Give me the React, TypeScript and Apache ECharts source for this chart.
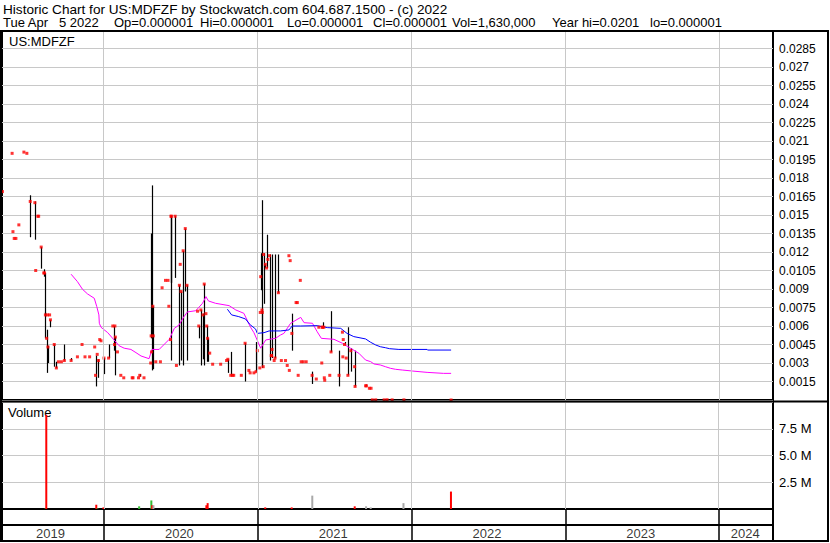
import React, { useEffect, useRef } from 'react';
import * as echarts from 'echarts';

// ---------- data ----------
const ticker = 'US:MDFZF';
const headerLine1 = 'Historic Chart for US:MDFZF by Stockwatch.com 604.687.1500 - (c) 2022';
const headerFields = [
  'Tue Apr   5 2022', 'Op=0.000001', 'Hi=0.000001', 'Lo=0.000001', 'Cl=0.000001',
  'Vol=1,630,000', 'Year hi=0.0201', 'lo=0.000001',
];

const axisStart = '2019-05-05';
const axisEnd = '2024-05-08';
const yearStarts = ['2020-01-01', '2021-01-01', '2022-01-01', '2023-01-01', '2024-01-01'];
const yearLabels = ['2019', '2020', '2021', '2022', '2023', '2024'];
const yearLabelDates = ['2019-08-28', '2020-06-29', '2021-06-29', '2022-06-29', '2023-06-29', '2024-03-03'];

// [date, high, low, close]
const priceRows: [string, number, number, number][] = [
  ['2019-05-06', 0.0169, 0.0169, 0.0169],
  ['2019-05-29', 0.02, 0.02, 0.02],
  ['2019-05-31', 0.01365, 0.01365, 0.01365],
  ['2019-06-03', 0.0131, 0.0131, 0.0131],
  ['2019-06-07', 0.0131, 0.0131, 0.0131],
  ['2019-06-14', 0.0142, 0.0142, 0.0142],
  ['2019-06-26', 0.0201, 0.0201, 0.0201],
  ['2019-07-03', 0.02, 0.02, 0.02],
  ['2019-07-11', 0.0166, 0.0132, 0.0161],
  ['2019-07-22', 0.0161, 0.013, 0.016],
  ['2019-07-24', 0.0105, 0.0105, 0.0105],
  ['2019-07-29', 0.0149, 0.0149, 0.0149],
  ['2019-07-31', 0.0149, 0.0149, 0.0149],
  ['2019-08-06', 0.0124, 0.01065, 0.0124],
  ['2019-08-12', 0.0106, 0.01, 0.0103],
  ['2019-08-14', 0.0103, 0.005, 0.0103],
  ['2019-08-16', 0.0071, 0.0069, 0.0069],
  ['2019-08-19', 0.0057, 0.0022, 0.005],
  ['2019-08-21', 0.0069, 0.0069, 0.0069],
  ['2019-08-22', 0.0044, 0.003, 0.0043],
  ['2019-08-26', 0.0069, 0.0069, 0.0069],
  ['2019-08-28', 0.0065, 0.0059, 0.0065],
  ['2019-09-06', 0.0045, 0.0027, 0.0045],
  ['2019-09-11', 0.0031, 0.0026, 0.0026],
  ['2019-09-16', 0.0031, 0.0031, 0.0031],
  ['2019-09-23', 0.0031, 0.0031, 0.0031],
  ['2019-09-30', 0.0045, 0.0032, 0.0032],
  ['2019-10-16', 0.0034, 0.0032, 0.0032],
  ['2019-10-31', 0.0035, 0.0035, 0.0035],
  ['2019-11-11', 0.0045, 0.0045, 0.0045],
  ['2019-11-18', 0.0035, 0.0035, 0.0035],
  ['2019-11-29', 0.0035, 0.0035, 0.0035],
  ['2019-12-11', 0.0043, 0.0043, 0.0043],
  ['2019-12-13', 0.0036, 0.0011, 0.002],
  ['2019-12-17', 0.0037, 0.0037, 0.0037],
  ['2019-12-20', 0.0033, 0.0018, 0.0032],
  ['2019-12-23', 0.0049, 0.0049, 0.0049],
  ['2019-12-26', 0.0048, 0.0048, 0.0048],
  ['2020-01-02', 0.0034, 0.0021, 0.0034],
  ['2020-01-13', 0.0045, 0.0034, 0.0034],
  ['2020-01-23', 0.006, 0.006, 0.006],
  ['2020-01-27', 0.006, 0.004, 0.0045],
  ['2020-01-28', 0.006, 0.006, 0.006],
  ['2020-01-29', 0.0051, 0.002, 0.0051],
  ['2020-02-03', 0.0039, 0.0039, 0.0039],
  ['2020-02-11', 0.002, 0.002, 0.002],
  ['2020-02-18', 0.0018, 0.0018, 0.0018],
  ['2020-03-09', 0.0018, 0.0018, 0.0018],
  ['2020-03-11', 0.0018, 0.0018, 0.0018],
  ['2020-03-24', 0.0018, 0.0018, 0.0018],
  ['2020-03-27', 0.0021, 0.0019, 0.002],
  ['2020-04-06', 0.0018, 0.0018, 0.0018],
  ['2020-04-22', 0.003, 0.003, 0.003],
  ['2020-04-23', 0.0135, 0.005, 0.0052],
  ['2020-04-24', 0.0174, 0.0024, 0.0039],
  ['2020-04-27', 0.0076, 0.0025, 0.0076],
  ['2020-04-28', 0.0052, 0.0052, 0.0052],
  ['2020-05-04', 0.0031, 0.0031, 0.0031],
  ['2020-05-15', 0.0031, 0.0031, 0.0031],
  ['2020-05-19', 0.0091, 0.0091, 0.0091],
  ['2020-05-27', 0.0097, 0.0097, 0.0097],
  ['2020-06-02', 0.0097, 0.0097, 0.0097],
  ['2020-06-04', 0.0076, 0.0076, 0.0076],
  ['2020-06-08', 0.0149, 0.0032, 0.0049],
  ['2020-06-09', 0.0149, 0.0095, 0.0149],
  ['2020-06-10', 0.0149, 0.0095, 0.0149],
  ['2020-06-19', 0.0149, 0.0099, 0.0149],
  ['2020-06-22', 0.0028, 0.0028, 0.0028],
  ['2020-06-29', 0.0093, 0.0028, 0.0093],
  ['2020-07-01', 0.011, 0.011, 0.011],
  ['2020-07-03', 0.0088, 0.0032, 0.0088],
  ['2020-07-08', 0.0121, 0.0028, 0.0121],
  ['2020-07-13', 0.0139, 0.0088, 0.0139],
  ['2020-07-17', 0.0093, 0.0032, 0.0093],
  ['2020-08-11', 0.0072, 0.0072, 0.0072],
  ['2020-08-14', 0.006, 0.005, 0.006],
  ['2020-08-19', 0.0073, 0.0028, 0.0073],
  ['2020-08-24', 0.007, 0.0033, 0.0069],
  ['2020-08-27', 0.0094, 0.0028, 0.0094],
  ['2020-08-31', 0.007, 0.007, 0.007],
  ['2020-09-02', 0.006, 0.0031, 0.006],
  ['2020-09-04', 0.005, 0.0031, 0.005],
  ['2020-09-09', 0.0038, 0.0038, 0.0038],
  ['2020-09-16', 0.0029, 0.0029, 0.0029],
  ['2020-10-05', 0.0029, 0.0029, 0.0029],
  ['2020-10-19', 0.0032, 0.0032, 0.0032],
  ['2020-10-22', 0.0033, 0.0022, 0.0033],
  ['2020-10-29', 0.0039, 0.002, 0.002],
  ['2020-11-02', 0.002, 0.002, 0.002],
  ['2020-11-05', 0.002, 0.002, 0.002],
  ['2020-11-23', 0.002, 0.002, 0.002],
  ['2020-12-02', 0.0046, 0.0015, 0.0046],
  ['2020-12-11', 0.0024, 0.0024, 0.0024],
  ['2020-12-14', 0.0022, 0.0022, 0.0022],
  ['2020-12-23', 0.0022, 0.0022, 0.0022],
  ['2020-12-28', 0.0047, 0.0023, 0.0023],
  ['2020-12-31', 0.004, 0.004, 0.004],
  ['2021-01-06', 0.0026, 0.0026, 0.0026],
  ['2021-01-07', 0.0071, 0.0071, 0.0071],
  ['2021-01-08', 0.0119, 0.0089, 0.01],
  ['2021-01-11', 0.0074, 0.0026, 0.0073],
  ['2021-01-12', 0.0162, 0.0027, 0.0071],
  ['2021-01-14', 0.0027, 0.0027, 0.0027],
  ['2021-01-15', 0.0119, 0.0078, 0.0118],
  ['2021-01-19', 0.011, 0.0107, 0.011],
  ['2021-01-22', 0.0134, 0.0107, 0.0107],
  ['2021-01-25', 0.0114, 0.0114, 0.0114],
  ['2021-01-29', 0.0118, 0.0032, 0.0117],
  ['2021-02-02', 0.0036, 0.0036, 0.0036],
  ['2021-02-03', 0.0118, 0.0034, 0.0036],
  ['2021-02-04', 0.0041, 0.0041, 0.0041],
  ['2021-02-09', 0.0032, 0.0032, 0.0032],
  ['2021-02-11', 0.0118, 0.0034, 0.0034],
  ['2021-02-19', 0.0118, 0.0087, 0.0087],
  ['2021-02-26', 0.0032, 0.0032, 0.0032],
  ['2021-03-08', 0.0032, 0.0032, 0.0032],
  ['2021-03-12', 0.0028, 0.0028, 0.0028],
  ['2021-03-16', 0.0117, 0.0117, 0.0117],
  ['2021-03-17', 0.0024, 0.0024, 0.0024],
  ['2021-03-19', 0.0113, 0.0113, 0.0113],
  ['2021-03-23', 0.007, 0.004, 0.0054],
  ['2021-04-02', 0.0079, 0.0079, 0.0079],
  ['2021-04-05', 0.0079, 0.0079, 0.0079],
  ['2021-04-07', 0.002, 0.002, 0.002],
  ['2021-04-12', 0.0097, 0.0097, 0.0097],
  ['2021-04-14', 0.0031, 0.0031, 0.0031],
  ['2021-04-19', 0.0031, 0.0031, 0.0031],
  ['2021-04-26', 0.0031, 0.0031, 0.0031],
  ['2021-05-10', 0.0023, 0.0013, 0.002],
  ['2021-05-20', 0.0017, 0.0017, 0.0017],
  ['2021-05-26', 0.0059, 0.0059, 0.0059],
  ['2021-06-02', 0.003, 0.003, 0.003],
  ['2021-06-03', 0.0059, 0.0059, 0.0059],
  ['2021-06-04', 0.0063, 0.0059, 0.0059],
  ['2021-06-07', 0.0059, 0.0059, 0.0059],
  ['2021-06-08', 0.0018, 0.0018, 0.0018],
  ['2021-06-09', 0.0016, 0.0016, 0.0016],
  ['2021-06-21', 0.002, 0.002, 0.002],
  ['2021-06-24', 0.0072, 0.0039, 0.0039],
  ['2021-07-13', 0.004, 0.0011, 0.002],
  ['2021-07-21', 0.0055, 0.0055, 0.0055],
  ['2021-07-22', 0.0035, 0.0035, 0.0035],
  ['2021-07-23', 0.0049, 0.0049, 0.0049],
  ['2021-07-26', 0.0047, 0.0045, 0.0045],
  ['2021-07-30', 0.0034, 0.0034, 0.0034],
  ['2021-08-03', 0.0059, 0.002, 0.002],
  ['2021-08-10', 0.0042, 0.0023, 0.004],
  ['2021-08-19', 0.004, 0.0011, 0.0027],
  ['2021-08-20', 0.0011, 0.0011, 0.0011],
  ['2021-09-14', 0.00125, 0.00115, 0.00115],
  ['2021-09-16', 0.00115, 0.00115, 0.00115],
  ['2021-09-23', 0.00095, 0.00095, 0.00095],
  ['2021-09-27', 0.00095, 0.00095, 0.00095],
  ['2021-09-30', 0.00001, 0.00001, 0.00001],
  ['2021-10-08', 0.00001, 0.00001, 0.00001],
  ['2021-10-28', 0.00001, 0.00001, 0.00001],
  ['2021-11-04', 0.00002, 0.00002, 0.00002],
  ['2021-11-16', 0.00001, 0.00001, 0.00001],
  ['2021-12-14', 0.00001, 0.00001, 0.00001],
  ['2022-04-05', 0.000001, 0.000001, 0.000001],
];

const maShort: [string, number][] = [
  ['2019-10-16', 0.0102], ['2019-10-31', 0.0096], ['2019-11-12', 0.00898], ['2019-11-24', 0.0086],
  ['2019-12-10', 0.00825], ['2019-12-16', 0.00757], ['2019-12-21', 0.0069], ['2019-12-22', 0.00622],
  ['2019-12-26', 0.0059], ['2020-01-11', 0.00546], ['2020-01-26', 0.00487], ['2020-02-07', 0.0044],
  ['2020-02-19', 0.0042], ['2020-03-06', 0.0041], ['2020-03-18', 0.00384], ['2020-03-30', 0.00357],
  ['2020-04-18', 0.00335], ['2020-04-25', 0.0041], ['2020-05-12', 0.0041], ['2020-06-05', 0.00492],
  ['2020-06-17', 0.00581], ['2020-06-28', 0.00608], ['2020-07-10', 0.00676], ['2020-07-18', 0.00714],
  ['2020-08-07', 0.00724], ['2020-08-23', 0.00784], ['2020-08-31', 0.00838], ['2020-09-06', 0.00803],
  ['2020-09-23', 0.00784], ['2020-10-25', 0.00765], ['2020-11-10', 0.0073], ['2020-11-29', 0.00703],
  ['2020-12-15', 0.0059], ['2020-12-23', 0.00546], ['2021-01-08', 0.0042], ['2021-01-20', 0.00487],
  ['2021-02-12', 0.005], ['2021-02-24', 0.00527], ['2021-03-04', 0.0054], ['2021-03-20', 0.00622],
  ['2021-04-13', 0.0067], ['2021-04-21', 0.00627], ['2021-05-11', 0.00622], ['2021-05-22', 0.00554],
  ['2021-06-01', 0.005], ['2021-07-01', 0.00492], ['2021-07-21', 0.0046], ['2021-08-09', 0.0042],
  ['2021-08-29', 0.00379], ['2021-09-14', 0.00324], ['2021-09-26', 0.00311], ['2021-10-04', 0.00292],
  ['2021-10-19', 0.00284], ['2021-10-31', 0.0027], ['2021-11-12', 0.00257], ['2021-11-24', 0.00249],
  ['2021-12-10', 0.00243], ['2022-01-03', 0.00235], ['2022-02-07', 0.00224], ['2022-03-18', 0.00216],
  ['2022-04-05', 0.00216],
];

const maLong: [string, number][] = [
  ['2020-10-21', 0.00736], ['2020-10-31', 0.0069], ['2020-11-17', 0.00676], ['2020-12-03', 0.00657],
  ['2020-12-13', 0.00614], ['2020-12-15', 0.00608], ['2020-12-27', 0.00575], ['2020-12-31', 0.0054],
  ['2021-01-16', 0.00546], ['2021-01-28', 0.0056], ['2021-02-24', 0.0056], ['2021-03-16', 0.00568],
  ['2021-03-24', 0.006], ['2021-04-13', 0.006], ['2021-05-22', 0.00603], ['2021-06-03', 0.00595],
  ['2021-06-15', 0.00587], ['2021-07-17', 0.00581], ['2021-08-01', 0.0054], ['2021-08-17', 0.00514],
  ['2021-09-14', 0.00495], ['2021-09-26', 0.00468], ['2021-10-08', 0.00446], ['2021-10-19', 0.00432],
  ['2021-10-31', 0.00424], ['2021-11-10', 0.00416], ['2021-12-02', 0.0041], ['2022-02-07', 0.0041],
  ['2022-02-08', 0.00405], ['2022-04-05', 0.00405],
];

const volumeDates = [
  '2019-08-14', '2019-08-16', '2019-12-13', '2019-12-16', '2019-12-30', '2020-03-24', '2020-04-22',
  '2020-04-24', '2020-04-27', '2020-08-31', '2020-09-03', '2021-01-18', '2021-03-22', '2021-05-10',
  '2021-08-19', '2021-09-15', '2021-09-26', '2021-12-13', '2022-04-05',
];
const volumeValues = [
  50000, 8800000, 400000, 50000, 150000, 250000, 800000,
  350000, 350000, 350000, 550000, 150000, 150000, 1250000,
  250000, 250000, 150000, 550000, 1630000,
];
// u = up, d = down, n = unchanged
const volumeDir = ['u', 'd', 'd', 'u', 'd', 'u', 'u', 'd', 'n', 'd', 'd', 'd', 'd', 'n', 'd', 'n', 'n', 'n', 'd'];

// ---------- chart ----------
const FONT = 'Liberation Sans, Arial, sans-serif';
const headerFieldX = [3, 114, 200, 287, 373, 452, 552, 650];
const t = (d: string) => new Date(d + 'T00:00:00Z').getTime();

export default function App() {
  const ref = useRef<HTMLDivElement>(null);
  useEffect(() => {
    if (!ref.current) return;
    const chart = echarts.init(ref.current, undefined, { renderer: 'svg' });
    const xMin = t(axisStart);
    const xMax = t(axisEnd);
    const dirColor: Record<string, string> = { u: '#33bb33', d: '#ff0000', n: '#a8a8a8' };

    const bars = priceRows.filter((r) => r[1] > r[2]).map((r) => [t(r[0]), r[1], r[2]]);
    const closes = priceRows.map((r) => [t(r[0]), r[3]]);
    const yearLines = yearStarts.map((d) => ({ xAxis: t(d) }));

    const xAxisBase = {
      type: 'time' as const,
      min: xMin,
      max: xMax,
      axisLine: { show: false },
      axisTick: { show: false },
      axisLabel: { show: false },
      splitLine: { show: false },
    };

    const priceFmt = (v: number) => (v <= 0 || v > 0.0289 ? '' : String(parseFloat(v.toFixed(4))));
    const volFmt = (v: number) => (v <= 0 || v > 9e6 ? '' : (v / 1e6).toFixed(1) + ' M');

    const headerTexts = headerFields.map((s, i) => ({
      type: 'text',
      left: headerFieldX[i],
      top: 16,
      style: { text: s, fill: '#000', font: `13px ${FONT}` },
    }));

    chart.setOption({
      animation: false,
      backgroundColor: '#fff',
      textStyle: { fontFamily: FONT },
      grid: [
        { left: 2, top: 31, width: 771, height: 369, show: true, borderColor: '#000', borderWidth: 2 },
        { left: 2, top: 402, width: 771, height: 107, show: true, borderColor: '#000', borderWidth: 2 },
        { left: 2, top: 509, width: 771, height: 32, show: true, borderColor: '#000', borderWidth: 2 },
      ],
      xAxis: [
        { ...xAxisBase, gridIndex: 0 },
        { ...xAxisBase, gridIndex: 1 },
        { ...xAxisBase, gridIndex: 2 },
      ],
      yAxis: [
        {
          gridIndex: 0,
          type: 'value',
          position: 'right',
          min: 0,
          max: 0.02992,
          interval: 0.0015,
          axisLine: { show: false },
          axisTick: { show: false },
          axisLabel: { formatter: priceFmt, color: '#000', fontSize: 12, margin: 6, fontFamily: FONT },
          splitLine: { lineStyle: { color: '#c8c8c8', width: 1 } },
        },
        {
          gridIndex: 1,
          type: 'value',
          position: 'right',
          min: 0,
          max: 10000000,
          interval: 2500000,
          axisLine: { show: false },
          axisTick: { show: false },
          axisLabel: { formatter: volFmt, color: '#000', fontSize: 13, margin: 6, fontFamily: FONT },
          splitLine: { lineStyle: { color: '#c8c8c8', width: 1 } },
        },
        {
          gridIndex: 2,
          type: 'value',
          min: 0,
          max: 2,
          interval: 1,
          axisLine: { show: false },
          axisTick: { show: false },
          axisLabel: { show: false },
          splitLine: { lineStyle: { color: '#000', width: 2 } },
        },
      ],
      series: [
        {
          type: 'scatter',
          xAxisIndex: 0,
          yAxisIndex: 0,
          data: [],
          silent: true,
          z: 1,
          markLine: {
            silent: true,
            symbol: ['none', 'none'],
            label: { show: false },
            lineStyle: { color: '#c8c8c8', type: 'solid', width: 1 },
            data: yearLines,
          },
        },
        {
          type: 'custom',
          xAxisIndex: 0,
          yAxisIndex: 0,
          clip: true,
          z: 2,
          encode: { x: 0, y: [1, 2] },
          data: bars,
          renderItem: (_p: any, api: any) => {
            const x = api.value(0);
            const a = api.coord([x, api.value(1)]);
            const b = api.coord([x, api.value(2)]);
            return {
              type: 'line',
              shape: { x1: Math.round(a[0]) + 0.5, y1: a[1], x2: Math.round(a[0]) + 0.5, y2: b[1] },
              style: { stroke: '#000', lineWidth: 1.2 },
            };
          },
        },
        {
          type: 'line',
          xAxisIndex: 0,
          yAxisIndex: 0,
          data: maShort.map((p) => [t(p[0]), p[1]]),
          showSymbol: false,
          z: 3,
          lineStyle: { color: '#ff00ff', width: 1 },
        },
        {
          type: 'line',
          xAxisIndex: 0,
          yAxisIndex: 0,
          data: maLong.map((p) => [t(p[0]), p[1]]),
          showSymbol: false,
          z: 3,
          lineStyle: { color: '#0000ff', width: 1 },
        },
        {
          type: 'scatter',
          xAxisIndex: 0,
          yAxisIndex: 0,
          data: closes,
          symbol: 'rect',
          symbolSize: 3,
          z: 4,
          itemStyle: { color: '#ff0000' },
        },
        {
          type: 'bar',
          xAxisIndex: 1,
          yAxisIndex: 1,
          barWidth: 2,
          data: volumeDates.map((d, i) => ({
            value: [t(d), volumeValues[i]],
            itemStyle: { color: dirColor[volumeDir[i]] },
          })),
          markLine: {
            silent: true,
            symbol: ['none', 'none'],
            label: { show: false },
            lineStyle: { color: '#c8c8c8', type: 'solid', width: 1 },
            data: yearLines,
          },
        },
        {
          type: 'scatter',
          xAxisIndex: 2,
          yAxisIndex: 2,
          symbolSize: 1,
          itemStyle: { color: 'rgba(0,0,0,0)' },
          silent: true,
          data: yearLabelDates.map((d, i) => ({ value: [t(d), 0.5], name: yearLabels[i] })),
          label: {
            show: true,
            position: 'inside',
            formatter: (p: any) => p.name,
            color: '#000',
            fontSize: 13,
            fontFamily: FONT,
          },
          markLine: {
            silent: true,
            symbol: ['none', 'none'],
            label: { show: false },
            lineStyle: { color: '#000', type: 'solid', width: 1.5 },
            data: yearLines,
          },
        },
      ],
      graphic: [
        {
          type: 'rect',
          shape: { x: 1, y: 31, width: 827, height: 510 },
          style: { fill: 'none', stroke: '#000', lineWidth: 2 },
          z: 100,
        },
        {
          type: 'line',
          shape: { x1: 0, y1: 401.5, x2: 829, y2: 401.5 },
          style: { stroke: '#000', lineWidth: 2 },
          z: 100,
        },
        {
          type: 'text',
          left: 3,
          top: 2,
          style: { text: headerLine1, fill: '#000', font: `13.6px ${FONT}` },
        },
        ...headerTexts,
        {
          type: 'text',
          left: 9,
          top: 35,
          style: { text: ticker, fill: '#000', font: `13px ${FONT}` },
        },
        {
          type: 'text',
          left: 8,
          top: 406,
          style: { text: 'Volume', fill: '#000', font: `13px ${FONT}` },
        },
      ],
    });
    return () => chart.dispose();
  }, []);
  return <div ref={ref} style={{ width: 830, height: 543, position: 'absolute', left: 0, top: 0 }} />;
}
